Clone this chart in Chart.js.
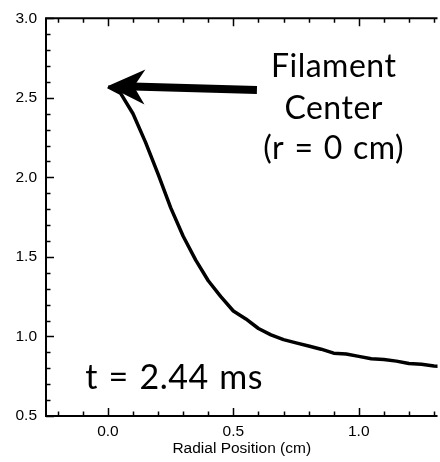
<!DOCTYPE html>
<html>
<head>
<meta charset="utf-8">
<script src="https://cdn.jsdelivr.net/npm/chart.js@4/dist/chart.umd.min.js"></script>
<style>
  html, body { margin: 0; padding: 0; background: #fff; }
  #wrap { width: 440px; height: 462px; }
</style>
</head>
<body>
<div id="wrap"><canvas id="myChart"></canvas></div>
<script>
// radial profile at t = 2.44 ms
const radius = [0, 0.05, 0.1, 0.15, 0.2, 0.25, 0.3, 0.35, 0.4, 0.45, 0.5, 0.55, 0.6, 0.65, 0.7,
  0.75, 0.8, 0.85, 0.9, 0.95, 1.0, 1.05, 1.1, 1.15, 1.2, 1.25, 1.3, 1.35];
const profile = [2.57, 2.53, 2.40, 2.22, 2.02, 1.81, 1.63, 1.48, 1.35, 1.25, 1.16, 1.11, 1.05, 1.01, 0.98,
  0.96, 0.94, 0.92, 0.895, 0.89, 0.875, 0.86, 0.855, 0.845, 0.83, 0.825, 0.815, 0.81];

// tick positions (minor every 0.1, labels on the 0.5 ones)
const xTicks = [-0.2, -0.1, 0.0, 0.1, 0.2, 0.3, 0.4, 0.5, 0.6, 0.7, 0.8, 0.9, 1.0, 1.1, 1.2, 1.3];
const yTicks = [0.5, 0.6, 0.7, 0.8, 0.9, 1.0, 1.1, 1.2, 1.3, 1.4, 1.5, 1.6, 1.7, 1.8, 1.9,
  2.0, 2.1, 2.2, 2.3, 2.4, 2.5, 2.6, 2.7, 2.8, 2.9, 3.0];
const xLabels = { "0": "0.0", "0.5": "0.5", "1": "1.0" };
const yLabels = { "0.5": "0.5", "1": "1.0", "1.5": "1.5", "2": "2.0", "2.5": "2.5", "3": "3.0" };

// annotations, in data units
const arrowTip = [0.0, 2.575];
const arrowTail = [0.594, 2.55];
const noteLines = ["Filament", "Center", "(r = 0 cm)"];
const noteX = 0.9;
const noteY = [2.631, 2.369, 2.1125];
const timeLabel = "t = 2.44 ms";
const timePos = [-0.091, 0.669];

const isMajor = v => Math.abs(v * 2 - Math.round(v * 2)) < 1e-6;

// axes frame + inward ticks, arrow and text
const framePlugin = {
  id: "frame",
  afterDraw(chart) {
    const ctx = chart.ctx;
    const a = chart.chartArea;
    const xs = chart.scales.x, ys = chart.scales.y;
    ctx.save();
    ctx.strokeStyle = "#000";
    ctx.lineWidth = 2;
    ctx.beginPath();
    ctx.moveTo(a.right, a.top);
    ctx.lineTo(a.left, a.top);
    ctx.lineTo(a.left, a.bottom);
    ctx.lineTo(a.right, a.bottom);
    ctx.stroke();

    ctx.lineWidth = 1.5;
    ctx.beginPath();
    xTicks.forEach(v => {
      const px = Math.round(xs.getPixelForValue(v)) + 0.5;
      const len = isMajor(v) ? 8 : 4.5;
      ctx.moveTo(px, a.bottom); ctx.lineTo(px, a.bottom - len);
      ctx.moveTo(px, a.top); ctx.lineTo(px, a.top + len);
    });
    yTicks.forEach(v => {
      const py = Math.round(ys.getPixelForValue(v)) + 0.5;
      const len = isMajor(v) ? 8 : 4.5;
      ctx.moveTo(a.left, py); ctx.lineTo(a.left + len, py);
    });
    ctx.stroke();

    // arrow
    const tx = xs.getPixelForValue(arrowTip[0]), ty = ys.getPixelForValue(arrowTip[1]);
    const ex = xs.getPixelForValue(arrowTail[0]), ey = ys.getPixelForValue(arrowTail[1]);
    const d = Math.hypot(ex - tx, ey - ty);
    const ux = (ex - tx) / d, uy = (ey - ty) / d;
    const nx = -uy, ny = ux;
    ctx.fillStyle = "#000";
    ctx.lineWidth = 8;
    ctx.lineCap = "butt";
    ctx.beginPath();
    ctx.moveTo(tx + ux * 25, ty + uy * 25);
    ctx.lineTo(ex, ey);
    ctx.stroke();
    ctx.beginPath();
    ctx.moveTo(tx, ty);
    ctx.lineTo(tx + ux * 37 + nx * 17.5, ty + uy * 37 + ny * 17.5);
    ctx.lineTo(tx + ux * 26, ty + uy * 26);
    ctx.lineTo(tx + ux * 37 - nx * 17.5, ty + uy * 37 - ny * 17.5);
    ctx.closePath();
    ctx.fill();

    // text
    ctx.letterSpacing = "0.5px";
    ctx.wordSpacing = "1.5px";
    ctx.font = "32px Lato";
    ctx.textAlign = "center";
    ctx.textBaseline = "alphabetic";
    noteLines.forEach((s, i) => {
      ctx.fillText(s, xs.getPixelForValue(noteX), ys.getPixelForValue(noteY[i]));
    });
    ctx.textAlign = "left";
    ctx.font = "34px Lato";
    ctx.fillText(timeLabel, xs.getPixelForValue(timePos[0]), ys.getPixelForValue(timePos[1]));
    ctx.restore();
  }
};

const data = {
  labels: radius,
  datasets: [
    {
      label: "profile",
      data: radius.map((r, i) => ({ x: r, y: profile[i] })),
      borderColor: "#000",
      borderWidth: 3.5,
      borderJoinStyle: "round",
      fill: false,
      tension: 0,
    }
  ],
};

const config = {
  type: "line",
  data: data,
  options: {
    responsive: true,
    maintainAspectRatio: false,
    animation: false,
    layout: { padding: { top: 16, right: 0, left: 0, bottom: 0 } },
    elements: { point: { radius: 0 } },
    plugins: {
      legend: false,
      tooltip: { enabled: false },
    },
    scales: {
      x: {
        type: "linear",
        min: -0.247,
        max: 1.314,
        border: { display: false },
        grid: { display: false, drawTicks: false },
        afterBuildTicks: s => { s.ticks = xTicks.map(v => ({ value: v })); },
        afterFit: s => { s.height = 46; },
        ticks: {
          autoSkip: false,
          maxRotation: 0,
          padding: 6,
          color: "#000",
          font: { family: "Liberation Sans", size: 15.5 },
          callback: v => xLabels[String(Math.round(v * 10) / 10)] || "",
        },
        title: {
          display: true,
          text: "Radial Position (cm)",
          color: "#000",
          font: { family: "Liberation Sans", size: 15.5 },
          padding: { top: 0, bottom: 4 },
        },
      },
      y: {
        min: 0.5,
        max: 3.0,
        border: { display: false },
        grid: { display: false, drawTicks: false },
        afterBuildTicks: s => { s.ticks = yTicks.map(v => ({ value: v })); },
        afterFit: s => { s.width = 46; },
        ticks: {
          autoSkip: false,
          padding: 9,
          color: "#000",
          font: { family: "Liberation Sans", size: 15.5 },
          callback: v => yLabels[String(Math.round(v * 10) / 10)] || "",
        },
      },
    },
  },
  plugins: [framePlugin],
};

const context = document.getElementById("myChart").getContext("2d");
const chart = new Chart(context, config);
</script>
</body>
</html>
